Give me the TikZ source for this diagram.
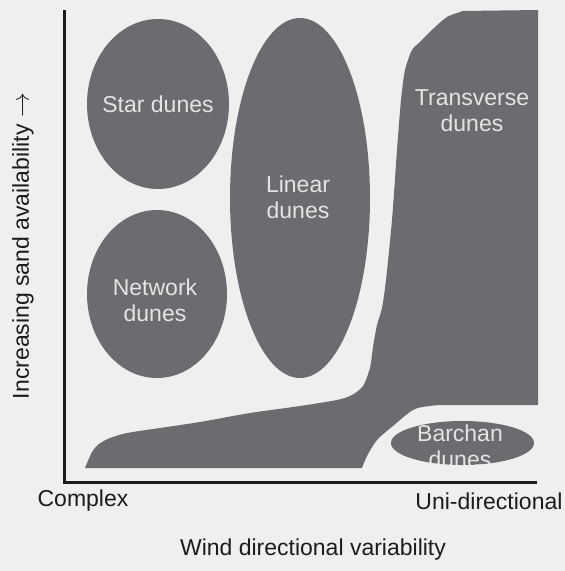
\documentclass[tikz,border=0pt]{standalone}
\usepackage{fontspec}
\setmainfont{Liberation Sans}
\definecolor{bg}{RGB}{239,239,239}
\definecolor{dune}{RGB}{108,108,112}
\definecolor{inner}{RGB}{228,228,228}
\definecolor{ink}{RGB}{28,28,28}
\tikzset{
  dunefill/.style={fill=dune, draw=none},
  innertext/.style={text=inner, align=center, font=\fontsize{23}{26}\selectfont, inner sep=0pt},
  outertext/.style={text=ink, font=\fontsize{23}{26}\selectfont, inner sep=0pt},
  axisline/.style={draw=ink, line width=3pt}
}
\begin{document}
\begin{tikzpicture}[x=1pt, y=-1pt]
\fill[bg] (0,0) rectangle (565,571);
\useasboundingbox (0,0) rectangle (565,571);

% transverse / lower band region
\fill[dunefill] (538,10) -- (463,11)
  -- plot[smooth, tension=0.45] coordinates {(463,11) (447,17) (433,29) (420,42) (412,50) (405,70) (401,100) (397,150) (392,220) (386,280) (382,308) (377,325) (373,347) (370,368) (363,386) (352,395) (337,400) (300,406) (250,413) (200,422) (160,428) (127,433) (110,438) (99,444) (92,452) (85,468)}
  -- (362,468)
  -- plot[smooth, tension=0.5] coordinates {(362,468) (367,456) (377,440) (393,426) (415,409) (440,405)}
  -- (538,405) -- cycle;

% ellipses
\fill[dunefill] (158,104) ellipse [x radius=71, y radius=85];
\fill[dunefill] (157,294) ellipse [x radius=70, y radius=84];
\fill[dunefill] (300,198) ellipse [x radius=70, y radius=180];
\fill[dunefill] (462.5,443) ellipse [x radius=71.5, y radius=22];

% labels inside
\node[innertext] (star) at (158,104) {Star dunes};
\node[innertext] (network) at (155,300) {Network\\dunes};
\node[innertext] (linear) at (298,197) {Linear\\dunes};
\node[innertext] (transverse) at (472,111) {Transverse\\dunes};
\begin{scope}
  \clip (462.5,443) ellipse [x radius=71.5, y radius=22];
  \node[innertext] (barchan) at (460,446) {Barchan\\dunes};
\end{scope}

% axes
\draw[axisline] (64,10) -- (64,482) -- (537,482);

% axis labels
\node[outertext] (complex) at (83,501) {Complex};
\node[outertext] (uni) at (489,501) {Uni-directional};
\node[outertext] (xlabel) at (313,550) {Wind directional variability};
\node[outertext, rotate=90] (ylabel) at (23,246) {Increasing sand availability $\rightarrow$};
\end{tikzpicture}
\end{document}
